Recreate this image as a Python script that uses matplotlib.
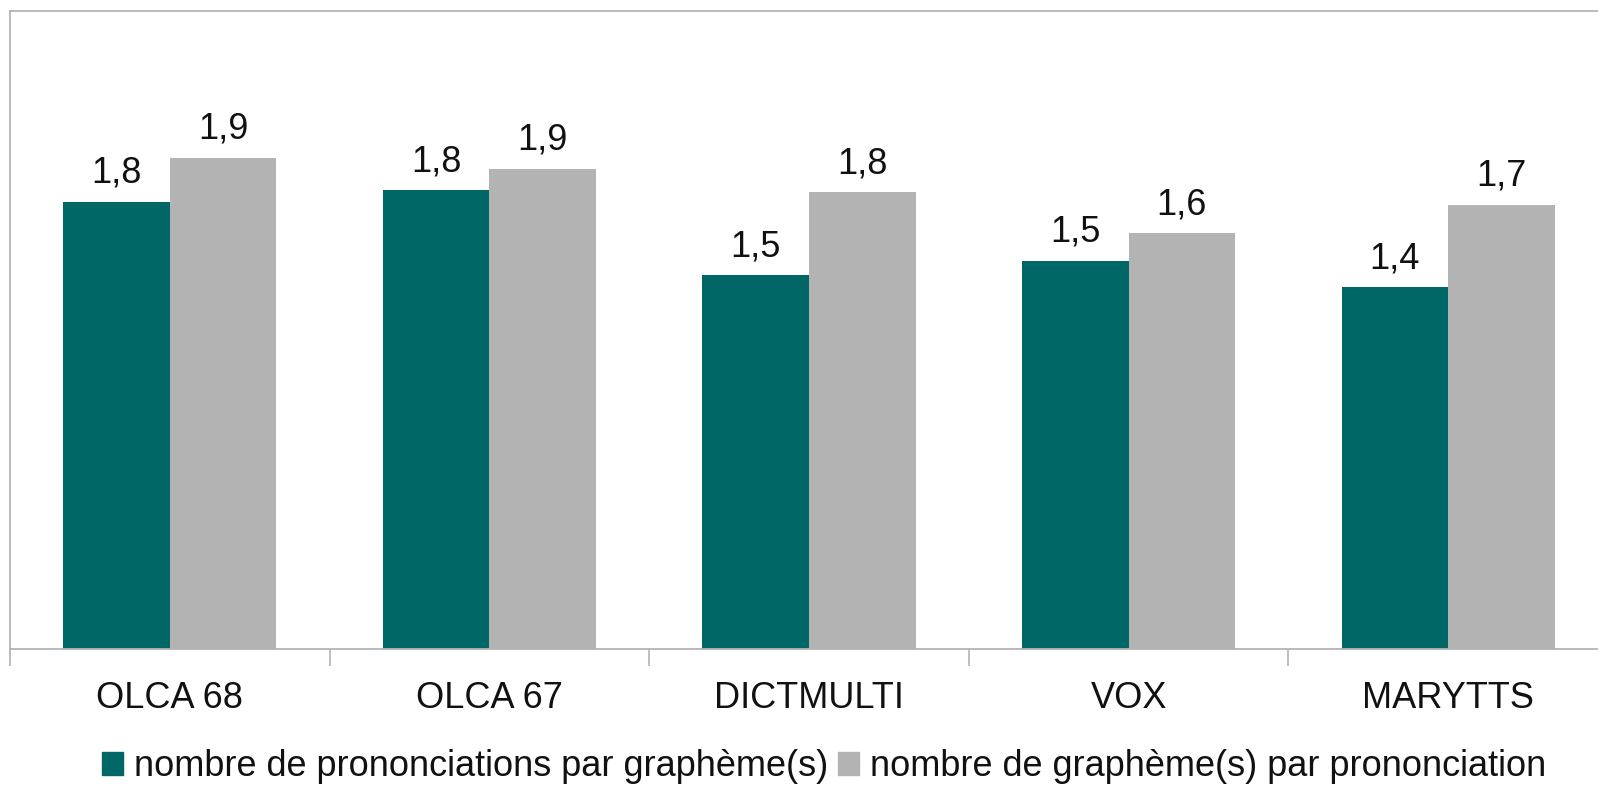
import matplotlib.pyplot as plt
from matplotlib.patches import Patch

plt.rcParams['font.family'] = ['Liberation Sans', 'DejaVu Sans']

categories = ['OLCA 68', 'OLCA 67', 'DICTMULTI', 'VOX', 'MARYTTS']
pron_par_graph = [1.753, 1.797, 1.465, 1.521, 1.418]
graph_par_pron = [1.925, 1.881, 1.789, 1.629, 1.741]
series_labels = ['nombre de prononciations par graphème(s)',
                 'nombre de graphème(s) par prononciation']

teal = '#006666'
grey = '#b3b3b3'
W, H = 1598, 785
fs = 26

fig = plt.figure(figsize=(W / 100, H / 100), dpi=100)
ax = fig.add_axes([10 / W, 136 / H, 1598 / W, 638 / H])

x = list(range(len(categories)))
bw = 1 / 3
b1 = ax.bar([i - bw / 2 for i in x], pron_par_graph, bw, color=teal)
b2 = ax.bar([i + bw / 2 for i in x], graph_par_pron, bw, color=grey)

for bars, vals in ((b1, pron_par_graph), (b2, graph_par_pron)):
    for r, v in zip(bars, vals):
        ax.annotate(f'{v:.1f}'.replace('.', ','),
                    (r.get_x() + r.get_width() / 2, r.get_height()),
                    xytext=(0, 8), textcoords='offset points',
                    ha='center', va='bottom', fontsize=fs, color='#111111')

ax.set_xlim(-0.5, len(categories) - 0.5)
ax.set_ylim(0, 2.5)
ax.set_yticks([])
ax.set_xticks([i - 0.5 for i in range(len(categories) + 1)])
ax.set_xticklabels([])
ax.set_xticks(x, minor=True)
ax.set_xticklabels(categories, minor=True, fontsize=fs, color='#111111')
ax.tick_params(axis='x', which='major', length=12, width=1.2, color=grey,
               direction='out')
ax.tick_params(axis='x', which='minor', length=0, pad=23)
for s in ax.spines.values():
    s.set_color(grey)
    s.set_linewidth(1.3)

handles = [Patch(color=teal), Patch(color=grey)]
fig.legend(handles, series_labels, loc='center', ncol=2,
           bbox_to_anchor=(824 / W, 1 - 767 / H), frameon=False,
           fontsize=fs, handlelength=0.6, handleheight=0.6,
           handletextpad=0.3, columnspacing=0.25, borderpad=0,
           labelcolor='#111111')

fig.savefig('out.png', dpi=100)
